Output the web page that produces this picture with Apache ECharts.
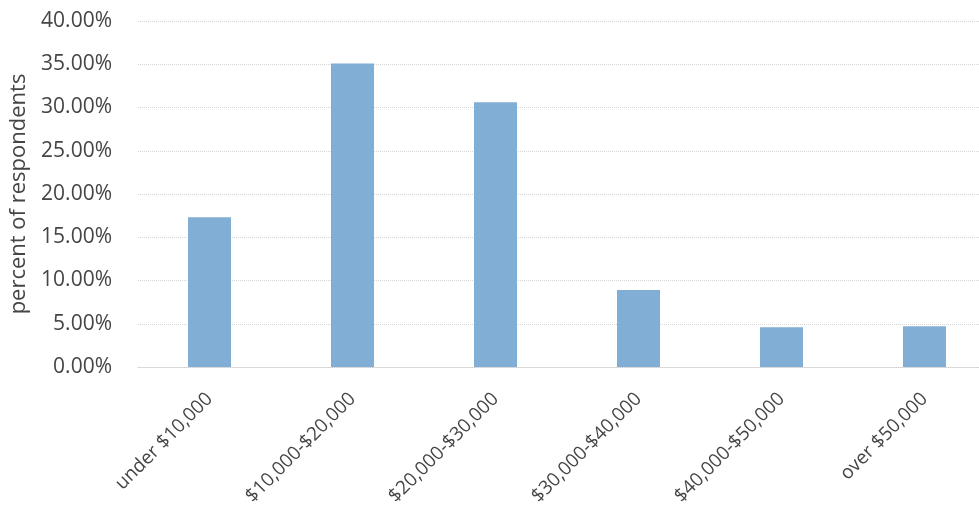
<!DOCTYPE html>
<html>
<head>
<meta charset="utf-8">
<script src="https://cdn.jsdelivr.net/npm/echarts@6/dist/echarts.min.js"></script>
<style>
  html, body { margin: 0; padding: 0; background: #fff; overflow: hidden; }
  #chart { width: 996px; height: 521px; }
</style>
</head>
<body>
<div id="chart"></div>
<script>
const categories = ['under $10,000', '$10,000-$20,000', '$20,000-$30,000', '$30,000-$40,000', '$40,000-$50,000', 'over $50,000']
const percents = [17.3, 35.1, 30.6, 8.9, 4.6, 4.7]
const yTicks = { min: 0, max: 40, interval: 5 }

// chart is a little wider than the window: the scan cuts off the right edge
const chart = echarts.init(document.getElementById('chart'), null, { renderer: 'canvas' })
chart.setOption({
  animation: false,
  grid: { left: 138, top: 21, right: 0, height: 346, containLabel: false },
  xAxis: {
    type: 'category',
    data: categories,
    axisLine: { lineStyle: { color: '#d0d0d0', type: 'dotted', width: 1 } },
    axisTick: { show: false },
    axisLabel: {
      rotate: 45,
      margin: 29,
      color: '#454545',
      fontFamily: 'Open Sans',
      fontSize: 19,
    },
  },
  yAxis: {
    type: 'value',
    min: yTicks.min,
    max: yTicks.max,
    interval: yTicks.interval,
    name: 'percent of respondents',
    nameLocation: 'middle',
    nameGap: 104,
    nameTextStyle: { color: '#454545', fontFamily: 'Open Sans', fontSize: 22 },
    axisLine: { show: false },
    axisTick: { show: false },
    axisLabel: {
      color: '#454545',
      fontFamily: 'Open Sans',
      fontSize: 21,
      margin: 26,
      formatter: (v) => v.toFixed(2) + '%',
    },
    splitLine: { lineStyle: { color: '#d6d6d6', type: 'dotted', width: 1 } },
  },
  series: [
    {
      type: 'bar',
      data: percents,
      barWidth: 43,
      itemStyle: { color: '#80aed5' },
    },
  ],
})
</script>
</body>
</html>
